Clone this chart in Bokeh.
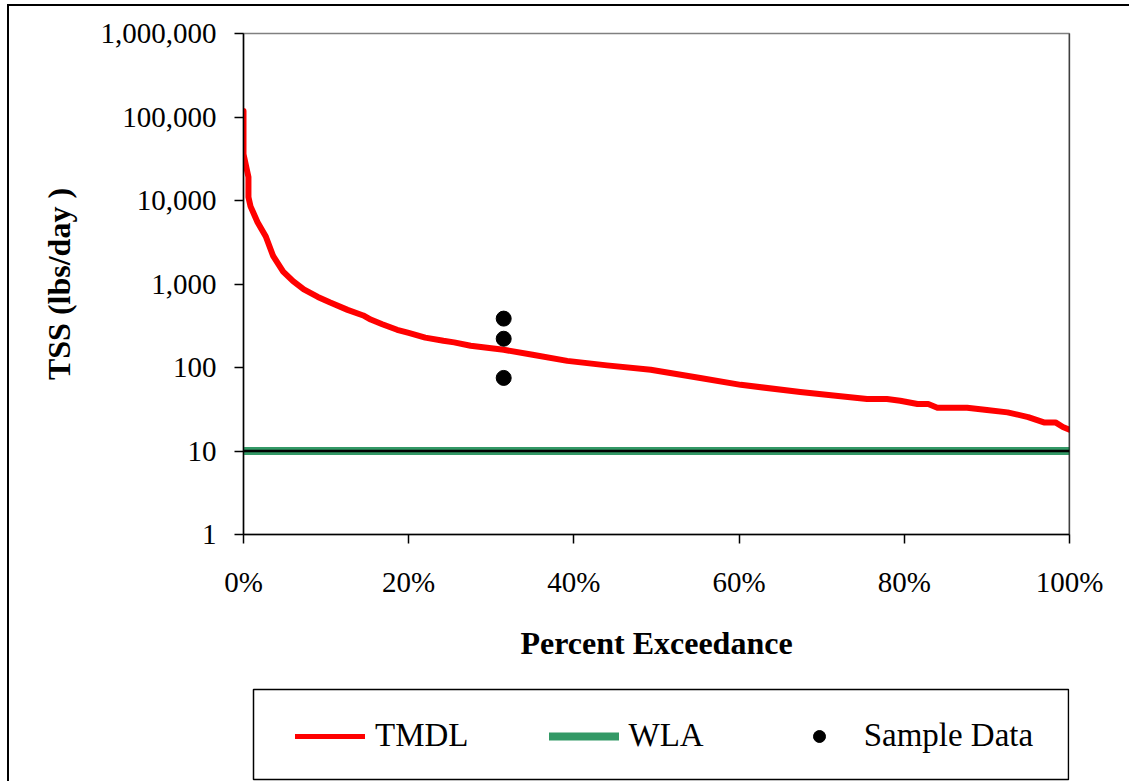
from bokeh.plotting import figure
from bokeh.layouts import column
from bokeh.models import (Range1d, FixedTicker, NumeralTickFormatter, PrintfTickFormatter,
                          Legend, LegendItem, Span, BoxAnnotation)
from bokeh.embed import file_html
from bokeh.resources import INLINE

# Load duration curve: percent of time the flow is exceeded vs. TSS load
tmdl_pct = [0, 0, 0.6, 0.6, 0.85, 1.7, 2.7, 3.6, 4.8, 6.0, 7.3, 9.0, 10.5, 12.6, 14.5,
            15.4, 16.8, 18.6, 20.0, 22.0, 24.2, 25.5, 27.5, 29.5, 31.5, 35.0, 39.2,
            44.0, 49.3, 55.3, 60.2, 67.4, 72.0, 75.5, 77.9, 79.5, 81.6, 82.9, 84.0,
            87.6, 90.0, 92.5, 95.0, 96.9, 98.3, 99.2, 100]
tmdl_lbs = [118000, 36000, 19000, 11000, 8500, 5500, 3700, 2150, 1410, 1080, 860, 700,
            600, 490, 420, 375, 330, 283, 260, 228, 209, 200, 182, 172, 163, 142, 120,
            106, 94, 75, 62, 51, 45.5, 42, 42, 40, 36.5, 36.5, 33, 33, 31, 29, 25.5,
            22, 22, 19.4, 18]

wla_pct = [0, 100]
wla_lbs = [10, 10]

sample_pct = [31.5, 31.5, 31.5]
sample_lbs = [385, 221, 75]

x_ticks = [0, 20, 40, 60, 80, 100]
y_ticks = [1, 10, 100, 1000, 10000, 100000, 1000000]

SERIF = "Liberation Serif"
RED, GREEN = "#FF0000", "#339966"
BORDER_L, BORDER_R = 234, 60

p = figure(width=1120, height=679, y_axis_type="log",
           x_range=Range1d(0, 100), y_range=Range1d(1, 1000000),
           output_backend="svg", toolbar_location=None, title=None,
           min_border_left=BORDER_L, min_border_right=BORDER_R,
           min_border_top=27, min_border_bottom=151)
p.background_fill_color = "white"
p.border_fill_color = "white"
p.xgrid.grid_line_color = None
p.ygrid.grid_line_color = None
p.outline_line_color = "#808080"
p.outline_line_width = 1.5

for ax in (p.xaxis[0], p.yaxis[0]):
    ax.axis_line_color = "black"
    ax.axis_line_width = 1.5
    ax.major_tick_line_color = "black"
    ax.major_tick_line_width = 1.5
    ax.major_tick_in = 0
    ax.major_tick_out = 9
    ax.minor_tick_line_color = None
    ax.major_label_text_font = SERIF
    ax.major_label_text_font_size = "29px"
    ax.major_label_text_color = "black"
    ax.axis_label_text_font = SERIF
    ax.axis_label_text_font_size = "32px"
    ax.axis_label_text_font_style = "bold"
    ax.axis_label_text_color = "black"

p.xaxis.ticker = FixedTicker(ticks=x_ticks)
p.xaxis.formatter = PrintfTickFormatter(format="%d%%")
p.xaxis.major_label_standoff = 22
p.xaxis.axis_label = "Percent Exceedance"
p.xaxis.axis_label_standoff = 24

p.yaxis.ticker = FixedTicker(ticks=y_ticks)
p.yaxis.formatter = NumeralTickFormatter(format="0,0")
p.yaxis.major_label_standoff = 18
p.yaxis.axis_label = "TSS (lbs/day )"
p.yaxis.axis_label_standoff = 21

# right edge of the plot frame in black
p.add_layout(Span(location=100, dimension="height", line_color="black", line_width=1.5))

p.line(wla_pct, wla_lbs, line_color=GREEN, line_width=8, line_cap="round")
p.line(wla_pct, wla_lbs, line_color="black", line_width=2.5)
p.line(tmdl_pct, tmdl_lbs, line_color=RED, line_width=6, line_join="round", line_cap="round")
p.scatter(sample_pct, sample_lbs, size=15, fill_color="black", line_color="black")

# legend strip below the chart; its ranges run in page pixels (y downward)
leg = figure(width=1120, height=96, x_range=Range1d(243, 1069), y_range=Range1d(781, 685),
             output_backend="svg", toolbar_location=None, title=None,
             x_axis_location=None, y_axis_location=None,
             min_border_left=BORDER_L, min_border_right=BORDER_R,
             min_border_top=0, min_border_bottom=0)
leg.xgrid.grid_line_color = None
leg.ygrid.grid_line_color = None
leg.outline_line_color = None
leg.border_fill_color = "white"
leg.add_layout(BoxAnnotation(left=253, right=1068, top=689, bottom=779,
                             fill_color=None, line_color="black", line_alpha=1.0,
                             line_width=1.5))

# legend keys styled like the series (their single points fall outside this strip's ranges)
k_tmdl = leg.line(tmdl_pct[:1], tmdl_lbs[:1], line_color=RED, line_width=5, line_cap="round")
k_wla = leg.line(wla_pct[:1], wla_lbs[:1], line_color=GREEN, line_width=8, line_cap="round")
k_samp = leg.scatter(sample_pct[:1], sample_lbs[:1], size=13,
                     fill_color="black", line_color="black")

legend = Legend(items=[LegendItem(label="TMDL", renderers=[k_tmdl]),
                       LegendItem(label="WLA", renderers=[k_wla]),
                       LegendItem(label="Sample Data", renderers=[k_samp])],
                orientation="horizontal", location=(52, 27),
                border_line_color=None, background_fill_alpha=0,
                padding=0, margin=0, spacing=80, glyph_width=70, glyph_height=30,
                label_standoff=10,
                label_text_font=SERIF, label_text_font_size="33px",
                label_text_color="black")
leg.add_layout(legend)

# chart-area border (left and top edges)
layout = column(p, leg, margin=(4, 0, 0, 7),
                styles={"border-left": "2px solid black", "border-top": "2px solid black"})

open("out.html", "w").write(file_html(layout, INLINE))
